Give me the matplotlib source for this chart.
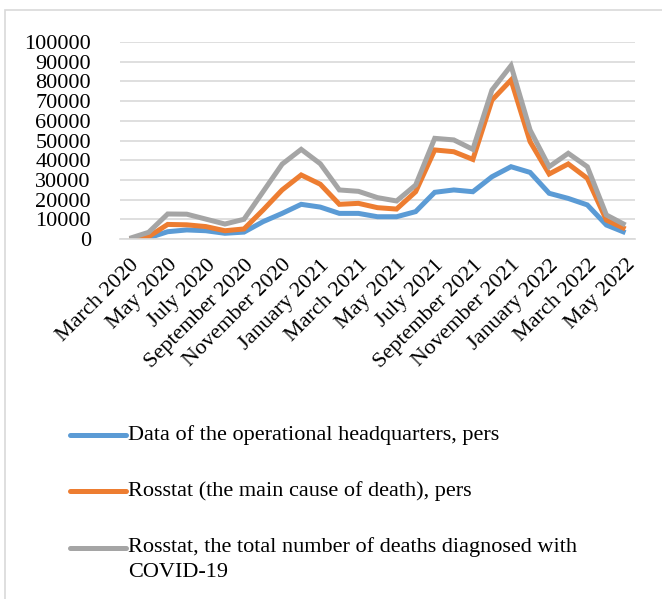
import numpy as np
import matplotlib
matplotlib.use("Agg")
import matplotlib.pyplot as plt
from matplotlib.lines import Line2D
from matplotlib.patches import Rectangle

plt.rcParams["font.family"] = ["Liberation Serif", "DejaVu Serif"]

# monthly deaths, March 2020 .. May 2022
months = [
    "March 2020", "April 2020", "May 2020", "June 2020", "July 2020",
    "August 2020", "September 2020", "October 2020", "November 2020",
    "December 2020", "January 2021", "February 2021", "March 2021",
    "April 2021", "May 2021", "June 2021", "July 2021", "August 2021",
    "September 2021", "October 2021", "November 2021", "December 2021",
    "January 2022", "February 2022", "March 2022", "April 2022", "May 2022",
]
headquarters = [
    100, 600, 3700, 4600, 4200, 2900, 3500, 8800, 13000, 17600, 16200,
    13000, 13000, 11300, 11300, 13900, 23700, 24900, 24000, 31600, 36700,
    33800, 23200, 20600, 17300, 7100, 3200,
]
rosstat_main = [
    0, 1200, 7400, 7200, 6300, 4200, 5100, 14700, 24900, 32500, 27800,
    17600, 18100, 15900, 15200, 24000, 45200, 44300, 40400, 70500, 80700,
    49400, 33000, 38100, 30800, 9600, 5100,
]
rosstat_total = [
    300, 3400, 12700, 12600, 10100, 7600, 10000, 24000, 38000, 45500, 38200,
    24900, 24200, 21000, 19300, 27400, 51100, 50300, 45500, 75600, 88000,
    55300, 36700, 43500, 36700, 12200, 7100,
]
series_labels = [
    "Data of the operational headquarters, pers",
    "Rosstat (the main cause of death), pers",
    "Rosstat, the total number of deaths diagnosed with\nCOVID-19",
]
colors = ["#5B9BD5", "#ED7D31", "#A5A5A5"]

fig = plt.figure(figsize=(6.62, 5.99), dpi=100)
ax = fig.add_axes([120 / 662, 1 - 239 / 599, (635 - 120) / 662, (239 - 42) / 599])

x = np.arange(len(months))
for values, color in zip([headquarters, rosstat_main, rosstat_total], colors):
    ax.plot(x, values, color=color, lw=3.6, solid_joinstyle="miter", solid_capstyle="butt")

ax.set_xlim(-0.5, len(months) - 0.5)
ax.set_ylim(0, 100000)
ax.set_yticks(np.arange(0, 100001, 10000))
ax.grid(axis="y", color="#D9D9D9", lw=1.2)
ax.set_axisbelow(True)
for side in ["top", "right", "left"]:
    ax.spines[side].set_visible(False)
ax.spines["bottom"].set_color("#D9D9D9")
ax.spines["bottom"].set_linewidth(1.2)

ax.set_xticks(x[::2])
ax.set_xticklabels(months[::2], rotation=45, ha="right", rotation_mode="anchor")
ax.tick_params(axis="both", length=0, labelsize=16)
ax.tick_params(axis="y", pad=21)
ax.tick_params(axis="x", pad=12)

# legend below the chart
legend_y = [435, 491, 548]
for label, color, ly in zip(series_labels, colors, legend_y):
    yf = 1 - ly / 599
    fig.add_artist(Line2D([70 / 662, 126 / 662], [yf, yf], color=color, lw=3.6,
                          solid_capstyle="round", transform=fig.transFigure))
    if "\n" in label:
        fig.text(128 / 662, 1 - 537 / 599, label, fontsize=16, va="top", linespacing=1.45)
    else:
        fig.text(128 / 662, yf, label, fontsize=16, va="center")

# chart frame
fig.add_artist(Rectangle((5 / 662, -0.02), 1.0, 1 - 10 / 599 + 0.02, transform=fig.transFigure,
                         fill=False, edgecolor="#D9D9D9", lw=1.2))

fig.savefig("out.png", dpi=100)
